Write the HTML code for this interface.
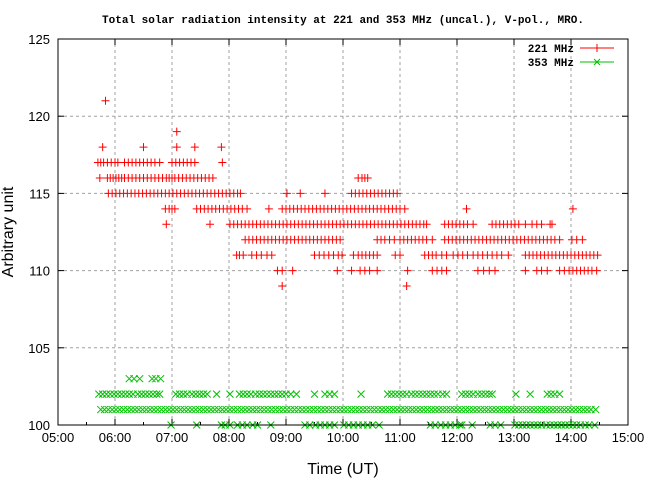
<!DOCTYPE html>
<html><head><meta charset="utf-8"><style>
body{margin:0;background:#fff}
svg{display:block}
text{font-family:"Liberation Sans",sans-serif}
.mono{font-family:"Liberation Mono",monospace}
</style></head><body>
<svg id="chart" width="650" height="480" xmlns="http://www.w3.org/2000/svg">
<text class="mono" x="343" y="23" font-size="11" font-weight="bold" text-anchor="middle">Total solar radiation intensity at 221 and 353 MHz (uncal.), V-pol., MRO.</text>
<g id="grid"></g>
<g id="axes"></g>
<g id="marks"></g>
<rect x="58" y="39" width="570" height="386" fill="none" stroke="#000" stroke-width="1"/>
<text x="0" y="0" font-size="16" text-anchor="middle" transform="translate(13,232) rotate(-90)">Arbitrary unit</text>
<text x="343" y="474" font-size="16" text-anchor="middle">Time (UT)</text>
<g>
<text class="mono" x="574" y="52" font-size="11" font-weight="bold" text-anchor="end">221 MHz</text>
<line x1="580" y1="48" x2="614" y2="48" stroke="#f00"/>
<path d="M593 48h8M597 44v8" stroke="#f00"/>
<text class="mono" x="574" y="66" font-size="11" font-weight="bold" text-anchor="end">353 MHz</text>
<line x1="580" y1="62" x2="614" y2="62" stroke="#00c000"/>
<path d="M594 59l6 6M594 65l6-6" stroke="#00c000"/>
</g>
</svg>
<script>
const xTickLabels=["05:00","06:00","07:00","08:00","09:00","10:00","11:00","12:00","13:00","14:00","15:00"];
const yTickLabels=[100,105,110,115,120,125];
// red (221 MHz): minutes after 05:00 at each level
const r121=[50];
const r119=[125];
const r118=[47,90,125,144,172];
const r117=[42,45,48,52,56,60,63,70,74,78,82,86,90,94,98,102,107,120,124,128,132,136,140,144,173];
const r116=[44,52,55,58,61,64,67,70,74,78,82,86,90,94,98,102,106,110,114,117,120,123,127,131,135,139,143,147,151,155,159,163,316,320,323,326];
const r115=[53,57,61,65,69,73,77,81,85,89,93,97,101,105,109,113,117,121,125,129,133,137,141,145,149,153,157,161,165,169,173,177,181,185,189,192,241,255,281,309,313,317,321,325,329,333,337,341,345,349,353,357];
const r114=[113,117,120,123,146,150,154,158,162,166,170,174,178,182,186,190,194,199,222,236,240,244,248,252,256,260,264,268,272,276,280,284,288,292,296,300,304,308,312,316,320,324,328,332,336,340,344,348,352,356,360,365,430,542];
const r113=[114,160,181,185,189,193,197,201,205,209,213,217,221,225,229,233,237,241,245,249,253,257,261,265,269,273,277,281,285,289,293,297,301,305,309,313,317,321,325,329,333,337,341,345,349,353,357,361,365,369,373,377,381,385,388,407,411,415,419,423,427,431,437,457,461,465,469,473,477,481,485,492,499,504,509,518,520];
const r112=[197,201,205,209,213,217,221,225,229,233,237,241,245,249,253,257,261,265,269,273,277,281,285,289,293,297,336,340,344,349,354,360,364,368,372,376,380,384,388,394,407,411,415,419,423,427,431,435,439,443,447,451,455,459,463,467,471,475,479,483,487,491,495,499,503,507,511,515,519,523,528,541,546,552];
const r111=[188,191,195,204,209,214,220,225,270,275,280,285,290,295,299,311,316,320,324,328,332,336,355,360,386,390,394,398,404,409,416,421,426,431,437,442,447,452,457,462,467,474,492,496,500,504,508,512,516,520,524,528,532,536,540,544,548,552,556,560,564,568];
const r110=[231,236,247,294,309,318,323,328,336,368,394,399,404,409,442,448,454,460,492,504,509,515,528,533,538,542,546,550,554,558,562,567];
const r109=[236,367];
// green (353 MHz)
const g103=[75,80,86,99,103,108];
const g102=[43,47,51,55,59,63,67,71,75,79,84,88,92,96,100,104,107,124,128,132,136,141,145,149,153,157,167,181,191,195,199,203,208,212,216,220,224,228,232,236,240,245,251,270,281,286,291,319,347,351,355,359,363,367,372,376,380,384,388,392,396,400,405,409,425,429,433,437,442,446,450,454,457,482,497,515,519,523,528];
const g101=[45,49,53,57,61,65,69,73,77,81,85,89,93,97,101,105,109,113,117,121,125,129,133,137,141,145,149,153,157,161,165,169,173,177,181,185,189,193,197,201,205,209,213,217,221,225,229,233,237,241,245,249,253,257,261,265,269,273,277,281,285,289,293,297,301,305,309,313,317,321,325,329,333,337,341,345,349,353,357,361,365,369,373,377,381,385,389,393,397,401,405,409,413,417,421,425,429,433,437,441,445,449,453,457,461,465,469,473,477,481,485,489,493,497,501,505,509,513,517,521,525,529,533,537,541,545,549,553,557,561,566];
const g100=[119,146,172,176,181,189,194,199,205,210,224,260,265,271,276,281,286,291,301,306,311,316,321,326,331,338,392,397,403,408,413,418,423,425,436,455,460,466,481,485,489,493,497,501,505,509,514,518,522,526,530,534,538,542,546,550,555,559,565];

const redSeries=[[121,r121],[119,r119],[118,r118],[117,r117],[116,r116],[115,r115],[114,r114],[113,r113],[112,r112],[111,r111],[110,r110],[109,r109]];
const greenSeries=[[103,g103],[102,g102],[101,g101],[100,g100]];

const X0=58,X1=628,Y0=425,Y1=39;
function xs(m){return X0+(m/600)*(X1-X0);}
function ys(v){return Y0-(v-100)/25*(Y0-Y1);}
const NS="http://www.w3.org/2000/svg";
const grid=document.getElementById('grid'),axes=document.getElementById('axes'),marks=document.getElementById('marks');
function mk(tag,attrs,parent){const e=document.createElementNS(NS,tag);for(const k in attrs)e.setAttribute(k,attrs[k]);parent.appendChild(e);return e;}

xTickLabels.forEach((lab,i)=>{
  const x=xs(i*60);
  if(i>0&&i<xTickLabels.length-1){
    const g=mk('line',{x1:x,y1:Y0,x2:x,y2:Y1,stroke:'#a0a0a0','stroke-dasharray':'3,3'},grid);
    
    
  }
  const t=mk('line',{x1:x,y1:Y0,x2:x,y2:Y0-6,stroke:'#000'},axes);
  
  
  const t2=mk('line',{x1:x,y1:Y1,x2:x,y2:Y1+6,stroke:'#000'},axes);
  
  
  if(i<xTickLabels.length-1){
    const xm=xs(i*60+30);
    const mt=mk('line',{x1:xm,y1:Y0,x2:xm,y2:Y0-3,stroke:'#000'},axes);
    
    
  }
  const tx=mk('text',{x:x,y:442,'font-size':13,'text-anchor':'middle'},axes);
  tx.textContent=lab;
  
  
});
yTickLabels.forEach((v,i)=>{
  const y=ys(v);
  if(i>0&&i<yTickLabels.length-1){
    const g=mk('line',{x1:X0,y1:y,x2:X1,y2:y,stroke:'#a0a0a0','stroke-dasharray':'3,3'},grid);
    
    
  }
  const t=mk('line',{x1:X0,y1:y,x2:X0+6,y2:y,stroke:'#000'},axes);
  
  
  const t2=mk('line',{x1:X1,y1:y,x2:X1-6,y2:y,stroke:'#000'},axes);
  
  
  const tx=mk('text',{x:50,y:y+5,'font-size':13,'text-anchor':'end'},axes);
  tx.textContent=v;
  
  
});
let dr='';
redSeries.forEach(([v,arr])=>arr.forEach(m=>{const x=xs(m),y=ys(v);dr+=`M${x-4} ${y}h8M${x} ${y-4}v8`;}));
const pr=mk('path',{d:dr,stroke:'#f00','stroke-width':1,fill:'none'},marks);


let dg='';
greenSeries.forEach(([v,arr])=>arr.forEach(m=>{const x=xs(m),y=ys(v);dg+=`M${x-3.5} ${y-3.5}l7 7M${x-3.5} ${y+3.5}l7 -7`;}));
const pg=mk('path',{d:dg,stroke:'#00c000','stroke-width':1,fill:'none'},marks);


</script>
</body></html>
